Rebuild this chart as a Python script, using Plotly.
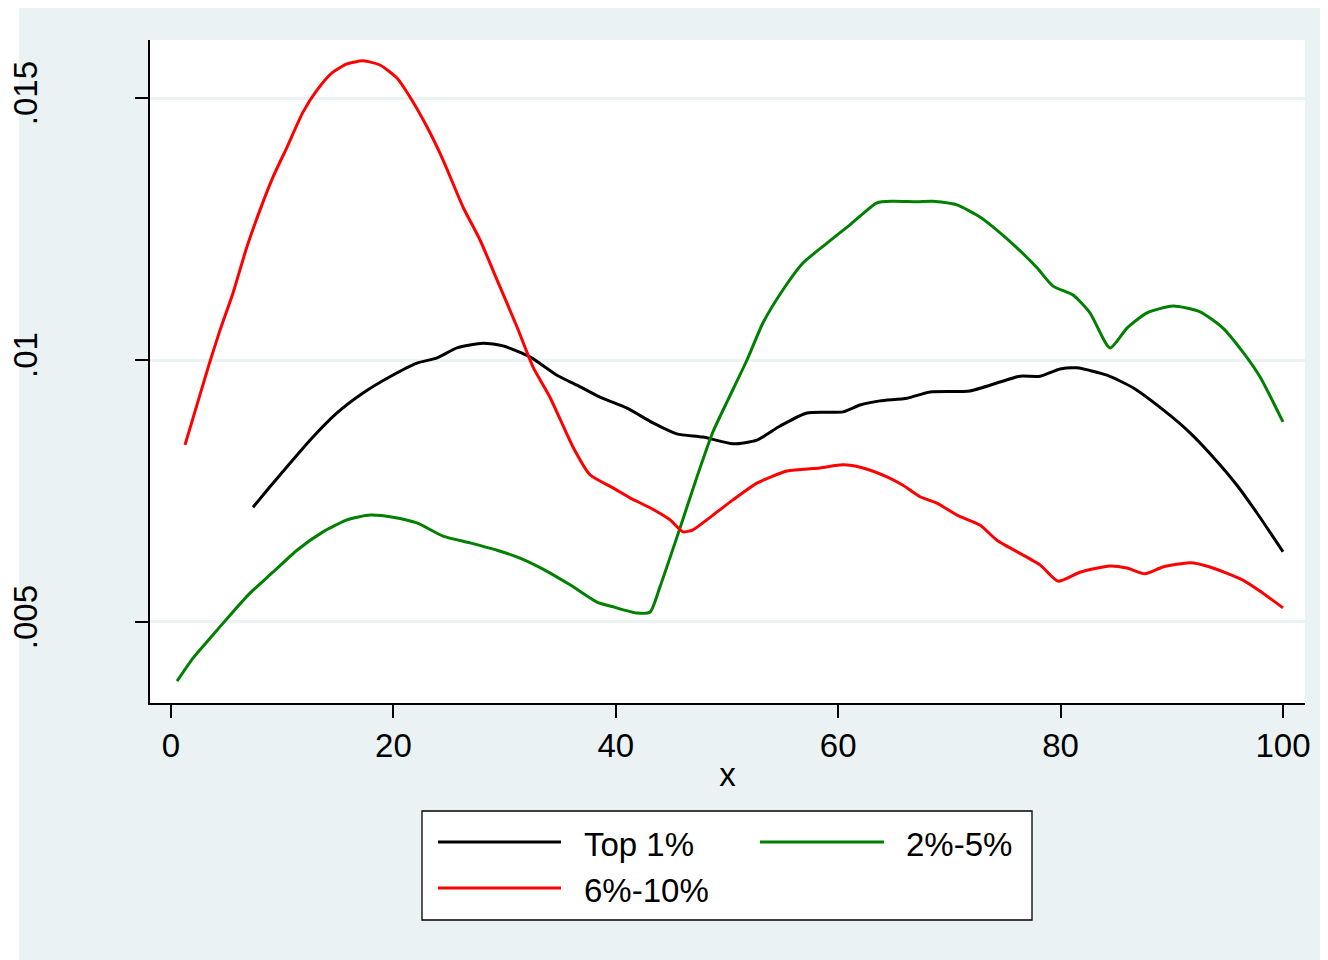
import plotly.graph_objects as go

# ---------------- data ----------------
top1_x = [7.37, 8.90, 10.70, 12.50, 14.93, 17.27, 19.69, 22.12, 23.92, 25.72, 28.06, 29.86,
          32.28, 34.71, 36.51, 38.58, 41.01, 43.35, 45.50, 47.84, 50.54, 52.70, 54.77, 57.19,
          60.43, 61.96, 63.76, 66.19, 68.26, 71.85, 74.55, 76.35, 78.15, 79.95, 81.47, 84.17,
          86.51, 89.57, 91.64, 93.71, 95.86, 97.66, 100.0]
top1_y = [.00719, .00758, .00803, .00847, .00899, .00937, .00968, .00994, .01004, .01023, .01032, .01027,
          .01006, .00971, .00952, .00929, .00908, .00880, .00859, .00853, .00840, .00847, .00874, .00899,
          .00901, .00914, .00922, .00927, .00939, .00941, .00958, .00969, .00969, .00983, .00985, .00971,
          .00947, .00899, .00861, .00815, .00761, .00708, .00634]

p2_5_x = [0.54, 1.98, 3.51, 5.31, 7.10, 9.17, 11.33, 13.67, 15.83, 17.90, 19.96, 22.12, 24.46,
          26.89, 29.32, 31.38, 33.45, 35.88, 38.31, 39.75, 41.91, 43.08, 43.97, 45.77, 47.30,
          48.74, 50.09, 51.80, 53.24, 55.04, 56.83, 58.99, 61.06, 63.49, 64.93, 67.09, 68.53,
          70.68, 72.75, 73.92, 76.08, 77.88, 79.32, 81.12, 82.64, 84.44, 85.97, 87.77, 90.11,
          92.54, 94.60, 96.40, 97.93, 100.0]
p2_5_y = [.00387, .00431, .00469, .00513, .00555, .00595, .00637, .00672, .00695, .00704, .00700, .00689, .00664,
          .00651, .00637, .00622, .00601, .00571, .00538, .00529, .00517, .00519, .00567, .00679, .00777,
          .00863, .00924, .01000, .01071, .01134, .01185, .01223, .01258, .01300, .01303, .01302, .01303,
          .01296, .01273, .01254, .01214, .01176, .01141, .01124, .01090, .01023, .01061, .01090, .01103,
          .01092, .01061, .01015, .00968, .00882]

p6_10_x = [1.26, 3.33, 4.41, 5.58, 6.83, 8.00, 9.17, 10.43, 11.87, 13.13, 14.48, 15.83, 17.27,
           18.79, 20.32, 21.49, 23.02, 24.46, 26.26, 27.79, 29.32, 31.12, 32.55, 34.08, 36.15,
           37.68, 39.75, 41.28, 43.08, 44.87, 46.04, 46.94, 48.74, 50.54, 52.70, 55.40, 58.36,
           60.43, 62.23, 64.39, 65.83, 67.36, 68.88, 70.68, 72.75, 74.28, 78.15, 79.77, 81.74,
           84.44, 85.97, 87.59, 89.21, 91.64, 93.44, 96.40, 98.20, 100.0]
p6_10_y = [.00838, .00985, .01057, .01128, .01216, .01286, .01349, .01406, .01473, .01515, .01548, .01565, .01571,
           .01563, .01538, .01502, .01445, .01382, .01292, .01229, .01153, .01063, .00987, .00929, .00834,
           .00781, .00756, .00737, .00718, .00695, .00672, .00676, .00704, .00733, .00765, .00788, .00794,
           .00800, .00794, .00777, .00761, .00739, .00727, .00704, .00685, .00656, .00609, .00578, .00595,
           .00607, .00603, .00592, .00605, .00613, .00605, .00580, .00555, .00527]

series_names = ["Top 1%", "2%-5%", "6%-10%"]
series_colors = ["#000000", "#008000", "#FF0000"]

x_ticks = [0, 20, 40, 60, 80, 100]
y_ticks = [0.005, 0.01, 0.015]
y_ticktext = [".005", ".01", ".015"]

# ---------------- layout geometry ----------------
# the page body adds an 8px offset, so the figure is 8px smaller and
# positions are given in reference-page pixels minus that offset
OFF = 8
W, H = 1328 - OFF, 960 - OFF
ML, MT = 150 - OFF, 40 - OFF
MR = W - (1305 - OFF)
MB = H - (703 - OFF)
PW, PH = W - ML - MR, H - MT - MB
BG = "#EAF2F3"
FONT = "Liberation Sans, Arial, Helvetica, sans-serif"
FS = 33


def px_x(p):
    return (p - OFF - ML) / PW


def px_y(p):
    return (H - MB - (p - OFF)) / PH


fig = go.Figure()
for xs, ys, name, col in [(top1_x, top1_y, series_names[0], series_colors[0]),
                          (p2_5_x, p2_5_y, series_names[1], series_colors[1]),
                          (p6_10_x, p6_10_y, series_names[2], series_colors[2])]:
    fig.add_trace(go.Scatter(x=xs, y=ys, mode="lines", name=name, showlegend=False,
                             line=dict(color=col, width=3, shape="spline", smoothing=0.6)))

shapes = [
    # outer graph region (light bluish gray)
    dict(type="rect", xref="paper", yref="paper", x0=px_x(19), x1=px_x(1340),
         y0=px_y(975), y1=px_y(5), fillcolor=BG, line=dict(width=0), layer="below"),
    # plot region (white)
    dict(type="rect", xref="paper", yref="paper", x0=0, x1=1, y0=0, y1=1,
         fillcolor="white", line=dict(width=0), layer="below"),
    # legend box
    dict(type="rect", xref="paper", yref="paper", x0=px_x(422), x1=px_x(1032),
         y0=px_y(920), y1=px_y(811), fillcolor="white", line=dict(color="black", width=1.3)),
]
annotations = []
legend_items = [
    (series_names[0], series_colors[0], 438, 561, 842, 582),
    (series_names[1], series_colors[1], 760, 884, 842, 904),
    (series_names[2], series_colors[2], 438, 561, 888, 582),
]
for name, col, lx0, lx1, ly, tx in legend_items:
    shapes.append(dict(type="line", xref="paper", yref="paper", x0=px_x(lx0), x1=px_x(lx1),
                       y0=px_y(ly), y1=px_y(ly), line=dict(color=col, width=3)))
    annotations.append(dict(xref="paper", yref="paper", x=px_x(tx), y=px_y(ly + 3),
                            text=name, showarrow=False, xanchor="left", yanchor="middle",
                            font=dict(size=FS, color="black", family=FONT)))

fig.update_layout(
    width=W, height=H,
    margin=dict(l=ML, r=MR, t=MT, b=MB, pad=0, autoexpand=False),
    paper_bgcolor="white", plot_bgcolor="white",
    font=dict(family=FONT, color="black", size=FS),
    shapes=shapes, annotations=annotations,
    showlegend=False,
)
fig.update_xaxes(range=[-1.888, 101.98], tickvals=x_ticks, ticks="outside", ticklen=13,
                 tickwidth=1.5, tickcolor="black", showline=True, linecolor="black", linewidth=1.5,
                 showgrid=False, zeroline=False, tickfont=dict(size=FS), automargin=False,
                 title=dict(text="x", font=dict(size=FS), standoff=0))
fig.update_yaxes(range=[0.003454, 0.016107], tickvals=y_ticks, ticktext=y_ticktext,
                 ticks="outside", ticklen=13, tickwidth=1.5, tickcolor="black", tickangle=-90,
                 showline=True, linecolor="black", linewidth=1.5, automargin=False,
                 showgrid=True, gridcolor=BG, gridwidth=3, zeroline=False,
                 tickfont=dict(size=FS), ticklabelstandoff=85)

fig.write_html("out.html")
